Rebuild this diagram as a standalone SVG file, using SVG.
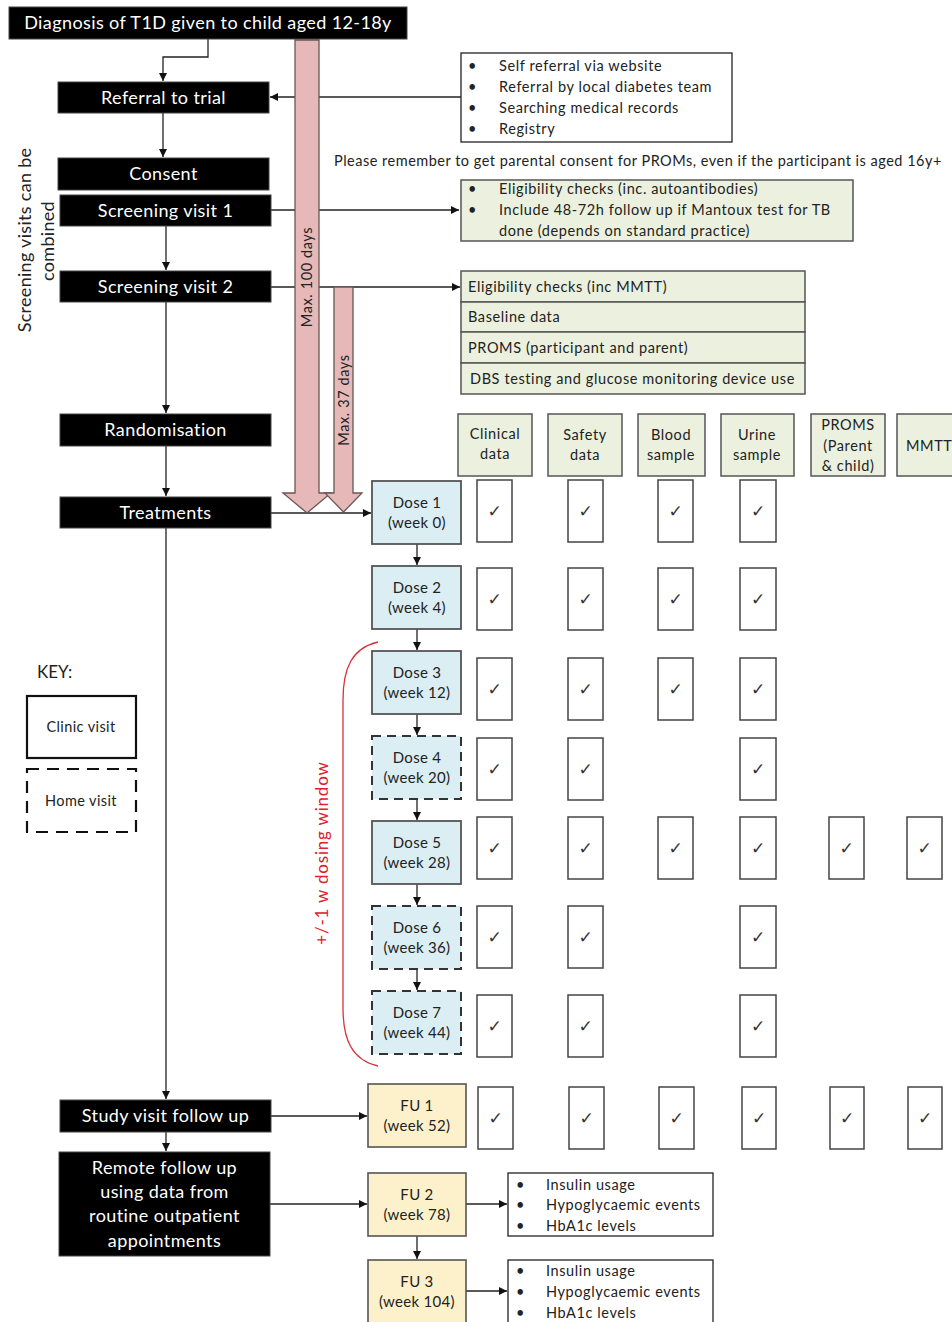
<svg xmlns="http://www.w3.org/2000/svg" width="952" height="1322" viewBox="0 0 952 1322">
<defs>
<marker id="ah" markerUnits="userSpaceOnUse" markerWidth="9" markerHeight="8" refX="8" refY="4" orient="auto">
<path d="M0,0 L8,4 L0,8 z" fill="#111"/>
</marker>
<style>
text{font-family:Lato,"Liberation Sans",sans-serif;}
.blk{fill:#000;stroke:#444;stroke-width:1;}
.wt{fill:#fff;font-size:18px;letter-spacing:0.4px;text-anchor:middle;}
.dk{fill:#222;}
.mid{text-anchor:middle;}
.ln{fill:none;stroke:#222;stroke-width:1.3;}
.arr{marker-end:url(#ah);}
.green{fill:#ebf1de;stroke:#555;stroke-width:1.5;}
.dose{fill:#dbeef4;stroke:#555;stroke-width:1.8;}
.dash{stroke:#333;stroke-width:2;stroke-dasharray:9 6;}
.fu{fill:#fdf1cb;stroke:#555;stroke-width:1.6;}
.chk{fill:#fff;stroke:#444;stroke-width:1.5;}
.ck{font-family:"DejaVu Sans",sans-serif;font-size:17px;fill:#333;text-anchor:middle;}
.wbox{fill:#fff;stroke:#222;stroke-width:1.3;}
.pink{fill:#e6b9b8;stroke:#6b5555;stroke-width:1.3;}
.s14{font-size:14.5px;letter-spacing:0.6px;}
.s15{font-size:15px;letter-spacing:0.3px;}
</style>
</defs>

<!-- Connectors -->
<g id="connectors">
<polyline class="ln arr" points="208,39 208,57 163,57 163,81"/>
<line class="ln arr" x1="163" y1="113" x2="163" y2="157"/>
<line class="ln arr" x1="166" y1="226" x2="166" y2="270"/>
<line class="ln arr" x1="166" y1="302" x2="166" y2="413"/>
<line class="ln arr" x1="166" y1="446" x2="166" y2="496"/>
<line class="ln arr" x1="166" y1="528" x2="166" y2="1099"/>
<line class="ln arr" x1="166" y1="1132" x2="166" y2="1151"/>
<line class="ln arr" x1="461" y1="97" x2="270" y2="97"/>
<line class="ln arr" x1="271" y1="210" x2="459" y2="210"/>
<line class="ln arr" x1="271" y1="287" x2="460" y2="287"/>
<line class="ln arr" x1="271" y1="513" x2="371" y2="513"/>
<line class="ln arr" x1="417" y1="544" x2="417" y2="565"/>
<line class="ln arr" x1="417" y1="629" x2="417" y2="650"/>
<line class="ln arr" x1="417" y1="714" x2="417" y2="735"/>
<line class="ln arr" x1="417" y1="799" x2="417" y2="820"/>
<line class="ln arr" x1="417" y1="884" x2="417" y2="905"/>
<line class="ln arr" x1="417" y1="969" x2="417" y2="990"/>
<line class="ln arr" x1="271" y1="1116" x2="367" y2="1116"/>
<line class="ln arr" x1="270" y1="1204" x2="367" y2="1204"/>
<line class="ln arr" x1="466" y1="1204" x2="507" y2="1204"/>
<line class="ln arr" x1="417" y1="1236" x2="417" y2="1259"/>
<line class="ln arr" x1="466" y1="1291" x2="507" y2="1291"/>
</g>

<!-- Timing arrows -->
<g id="max100">
<polygon class="pink" points="295,40 319,40 319,493 331,493 307,513 283,493 295,493"/>
<text class="dk s14 mid" transform="translate(307,277) rotate(-90)" y="5">Max. 100 days</text>
</g>
<g id="max37">
<polygon class="pink" points="334,287 353,287 353,493 362,493 343.5,512 325,493 334,493"/>
<text class="dk s14 mid" transform="translate(343.5,400) rotate(-90)" y="5">Max. 37 days</text>
</g>

<!-- Main flow -->
<g id="diagnosis"><rect class="blk" x="9" y="7" width="398" height="32"/><text class="wt" x="208" y="29">Diagnosis of T1D given to child aged 12-18y</text></g>
<g id="referral"><rect class="blk" x="58" y="82" width="211" height="31"/><text class="wt" x="163.5" y="103.5">Referral to trial</text></g>
<g id="consent"><rect class="blk" x="58" y="158" width="211" height="32"/><text class="wt" x="163.5" y="180">Consent</text></g>
<g id="screening1"><rect class="blk" x="60" y="195" width="211" height="31"/><text class="wt" x="165.5" y="216.5">Screening visit 1</text></g>
<g id="screening2"><rect class="blk" x="60" y="271" width="211" height="31"/><text class="wt" x="165.5" y="292.5">Screening visit 2</text></g>
<g id="randomisation"><rect class="blk" x="60" y="414" width="211" height="32"/><text class="wt" x="165.5" y="436">Randomisation</text></g>
<g id="treatments"><rect class="blk" x="60" y="497" width="211" height="31"/><text class="wt" x="165.5" y="518.5">Treatments</text></g>
<g id="studyfollowup"><rect class="blk" x="60" y="1100" width="211" height="32"/><text class="wt" x="165.5" y="1122">Study visit follow up</text></g>
<g id="remotefollowup"><rect class="blk" x="59" y="1152" width="211" height="104"/>
<text class="wt" x="164.5" y="1174">Remote follow up</text>
<text class="wt" x="164.5" y="1198">using data from</text>
<text class="wt" x="164.5" y="1222">routine outpatient</text>
<text class="wt" x="164.5" y="1247">appointments</text></g>

<g id="screeningnote">
<text class="dk mid" style="font-size:18px;letter-spacing:0.3px" transform="translate(25,240) rotate(-90)" y="6">Screening visits can be</text>
<text class="dk mid" style="font-size:18px;letter-spacing:0.3px" transform="translate(48,241) rotate(-90)" y="6">combined</text>
</g>

<!-- Referral sources -->
<g id="referralsources"><rect class="wbox" x="461" y="53" width="271" height="89"/>
<g class="dk s14">
<text x="468" y="71">•</text><text x="499" y="71">Self referral via website</text>
<text x="468" y="92">•</text><text x="499" y="92">Referral by local diabetes team</text>
<text x="468" y="113">•</text><text x="499" y="113">Searching medical records</text>
<text x="468" y="134">•</text><text x="499" y="134">Registry</text>
</g></g>

<g id="note"><text class="dk" style="font-size:14.5px;letter-spacing:0.5px" x="334" y="166">Please remember to get parental consent for PROMs, even if the participant is aged 16y+</text></g>

<g id="screening1detail"><rect class="green" x="461" y="180" width="392" height="61"/>
<g class="dk s14">
<text x="468" y="194">•</text><text x="499" y="194">Eligibility checks (inc. autoantibodies)</text>
<text x="468" y="215">•</text><text x="499" y="215">Include 48-72h follow up if Mantoux test for TB</text>
<text x="499" y="236">done (depends on standard  practice)</text>
</g></g>

<g id="screening2detail">
<rect class="green" x="461" y="271" width="344" height="31"/>
<rect class="green" x="461" y="302" width="344" height="30"/>
<rect class="green" x="461" y="332" width="344" height="31"/>
<rect class="green" x="461" y="363" width="344" height="31"/>
<g class="dk s14">
<text x="468" y="292">Eligibility checks (inc MMTT)</text>
<text x="468" y="322">Baseline data</text>
<text x="468" y="353">PROMS (participant and parent)</text>
<text x="470" y="384">DBS testing and glucose monitoring device use</text>
</g></g>

<!-- Column headers -->
<g id="hdr-clinical"><rect class="green" x="458" y="414" width="74" height="62"/><text class="dk s14 mid" x="495" y="439">Clinical</text><text class="dk s14 mid" x="495" y="459">data</text></g>
<g id="hdr-safety"><rect class="green" x="548" y="414" width="74" height="62"/><text class="dk s14 mid" x="585" y="440">Safety</text><text class="dk s14 mid" x="585" y="460">data</text></g>
<g id="hdr-blood"><rect class="green" x="638" y="414" width="67" height="62"/><text class="dk s14 mid" x="671" y="440">Blood</text><text class="dk s14 mid" x="671" y="460">sample</text></g>
<g id="hdr-urine"><rect class="green" x="721" y="414" width="73" height="62"/><text class="dk s14 mid" x="757" y="440">Urine</text><text class="dk s14 mid" x="757" y="460">sample</text></g>
<g id="hdr-proms"><rect class="green" x="811" y="414" width="74" height="62"/><text class="dk s14 mid" x="848" y="430">PROMS</text><text class="dk s14 mid" x="848" y="451">(Parent</text><text class="dk s14 mid" x="848" y="471">&amp; child)</text></g>
<g id="hdr-mmtt"><rect class="green" x="897" y="414" width="80" height="62"/><text class="dk s14" x="906" y="451">MMTT</text></g>

<!-- Dose / FU nodes -->
<g id="dose1"><rect class="dose" x="372" y="481" width="89" height="63"/><text class="dk s15 mid" x="417" y="508">Dose 1</text><text class="dk s15 mid" x="417" y="528">(week 0)</text></g>
<g id="dose2"><rect class="dose" x="372" y="566" width="89" height="63"/><text class="dk s15 mid" x="417" y="593">Dose 2</text><text class="dk s15 mid" x="417" y="613">(week 4)</text></g>
<g id="dose3"><rect class="dose" x="372" y="651" width="89" height="63"/><text class="dk s15 mid" x="417" y="678">Dose 3</text><text class="dk s15 mid" x="417" y="698">(week 12)</text></g>
<g id="dose4"><rect class="dose dash" x="372" y="736" width="89" height="63"/><text class="dk s15 mid" x="417" y="763">Dose 4</text><text class="dk s15 mid" x="417" y="783">(week 20)</text></g>
<g id="dose5"><rect class="dose" x="372" y="821" width="89" height="63"/><text class="dk s15 mid" x="417" y="848">Dose 5</text><text class="dk s15 mid" x="417" y="868">(week 28)</text></g>
<g id="dose6"><rect class="dose dash" x="372" y="906" width="89" height="63"/><text class="dk s15 mid" x="417" y="933">Dose 6</text><text class="dk s15 mid" x="417" y="953">(week 36)</text></g>
<g id="dose7"><rect class="dose dash" x="372" y="991" width="89" height="63"/><text class="dk s15 mid" x="417" y="1018">Dose 7</text><text class="dk s15 mid" x="417" y="1038">(week 44)</text></g>
<g id="fu1"><rect class="fu" x="368" y="1084" width="98" height="63"/><text class="dk s15 mid" x="417" y="1111">FU 1</text><text class="dk s15 mid" x="417" y="1131">(week 52)</text></g>
<g id="fu2"><rect class="fu" x="368" y="1173" width="98" height="63"/><text class="dk s15 mid" x="417" y="1200">FU 2</text><text class="dk s15 mid" x="417" y="1220">(week 78)</text></g>
<g id="fu3"><rect class="fu" x="368" y="1260" width="98" height="70"/><text class="dk s15 mid" x="417" y="1287">FU 3</text><text class="dk s15 mid" x="417" y="1307">(week 104)</text></g>

<g id="fu2detail"><rect class="wbox" x="508" y="1173" width="205" height="63"/>
<g class="dk s14">
<text x="516" y="1190">•</text><text x="546" y="1190">Insulin usage</text>
<text x="516" y="1210">•</text><text x="546" y="1210">Hypoglycaemic events</text>
<text x="516" y="1231">•</text><text x="546" y="1231">HbA1c levels</text>
</g></g>
<g id="fu3detail"><rect class="wbox" x="508" y="1260" width="205" height="70"/>
<g class="dk s14">
<text x="516" y="1276">•</text><text x="546" y="1276">Insulin usage</text>
<text x="516" y="1297">•</text><text x="546" y="1297">Hypoglycaemic events</text>
<text x="516" y="1318">•</text><text x="546" y="1318">HbA1c levels</text>
</g></g>

<!-- Dosing window -->
<g id="dosingwindow">
<path d="M378,642 C352,648 343,668 343,700 L343,1008 C343,1040 352,1060 378,1066" fill="none" stroke="#d9303c" stroke-width="1.3"/>
<text transform="translate(322,853) rotate(-90)" y="6" class="mid" style="font-size:17px;letter-spacing:0.8px;fill:#e0202a">+/-1 w dosing window</text>
</g>

<!-- Key -->
<g id="key">
<text class="dk" x="37" y="678" style="font-size:17px">KEY:</text>
<rect x="27" y="696" width="109" height="62" fill="#fff" stroke="#111" stroke-width="2.2"/>
<text class="dk mid" style="font-size:14.5px;letter-spacing:0.4px" x="81" y="732">Clinic visit</text>
<rect x="27" y="769" width="109" height="63" fill="#fff" stroke="#111" stroke-width="2.2" stroke-dasharray="12 8"/>
<text class="dk mid" style="font-size:14.5px;letter-spacing:0.4px" x="81" y="806">Home visit</text>
</g>

<!-- Checkbox grid -->
<g id="checks">
<!-- row 1 -->
<rect class="chk" x="477" y="480" width="35" height="62"/><text class="ck" x="494.5" y="517">✓</text>
<rect class="chk" x="568" y="480" width="35" height="62"/><text class="ck" x="585.5" y="517">✓</text>
<rect class="chk" x="658" y="480" width="35" height="62"/><text class="ck" x="675.5" y="517">✓</text>
<rect class="chk" x="740" y="480" width="36" height="62"/><text class="ck" x="758" y="517">✓</text>
<!-- row 2 -->
<rect class="chk" x="477" y="568" width="35" height="62"/><text class="ck" x="494.5" y="605">✓</text>
<rect class="chk" x="568" y="568" width="35" height="62"/><text class="ck" x="585.5" y="605">✓</text>
<rect class="chk" x="658" y="568" width="35" height="62"/><text class="ck" x="675.5" y="605">✓</text>
<rect class="chk" x="740" y="568" width="36" height="62"/><text class="ck" x="758" y="605">✓</text>
<!-- row 3 -->
<rect class="chk" x="477" y="658" width="35" height="62"/><text class="ck" x="494.5" y="695">✓</text>
<rect class="chk" x="568" y="658" width="35" height="62"/><text class="ck" x="585.5" y="695">✓</text>
<rect class="chk" x="658" y="658" width="35" height="62"/><text class="ck" x="675.5" y="695">✓</text>
<rect class="chk" x="740" y="658" width="36" height="62"/><text class="ck" x="758" y="695">✓</text>
<!-- row 4 -->
<rect class="chk" x="477" y="738" width="35" height="62"/><text class="ck" x="494.5" y="775">✓</text>
<rect class="chk" x="568" y="738" width="35" height="62"/><text class="ck" x="585.5" y="775">✓</text>
<rect class="chk" x="740" y="738" width="36" height="62"/><text class="ck" x="758" y="775">✓</text>
<!-- row 5 -->
<rect class="chk" x="477" y="817" width="35" height="62"/><text class="ck" x="494.5" y="854">✓</text>
<rect class="chk" x="568" y="817" width="35" height="62"/><text class="ck" x="585.5" y="854">✓</text>
<rect class="chk" x="658" y="817" width="35" height="62"/><text class="ck" x="675.5" y="854">✓</text>
<rect class="chk" x="740" y="817" width="36" height="62"/><text class="ck" x="758" y="854">✓</text>
<rect class="chk" x="829" y="817" width="35" height="62"/><text class="ck" x="846.5" y="854">✓</text>
<rect class="chk" x="907" y="817" width="35" height="62"/><text class="ck" x="924.5" y="854">✓</text>
<!-- row 6 -->
<rect class="chk" x="477" y="906" width="35" height="62"/><text class="ck" x="494.5" y="943">✓</text>
<rect class="chk" x="568" y="906" width="35" height="62"/><text class="ck" x="585.5" y="943">✓</text>
<rect class="chk" x="740" y="906" width="36" height="62"/><text class="ck" x="758" y="943">✓</text>
<!-- row 7 -->
<rect class="chk" x="477" y="995" width="35" height="62"/><text class="ck" x="494.5" y="1032">✓</text>
<rect class="chk" x="568" y="995" width="35" height="62"/><text class="ck" x="585.5" y="1032">✓</text>
<rect class="chk" x="740" y="995" width="36" height="62"/><text class="ck" x="758" y="1032">✓</text>
<!-- FU1 row -->
<rect class="chk" x="478" y="1087" width="35" height="62"/><text class="ck" x="495.5" y="1124">✓</text>
<rect class="chk" x="569" y="1087" width="35" height="62"/><text class="ck" x="586.5" y="1124">✓</text>
<rect class="chk" x="659" y="1087" width="35" height="62"/><text class="ck" x="676.5" y="1124">✓</text>
<rect class="chk" x="742" y="1087" width="34" height="62"/><text class="ck" x="759" y="1124">✓</text>
<rect class="chk" x="830" y="1087" width="34" height="62"/><text class="ck" x="847" y="1124">✓</text>
<rect class="chk" x="908" y="1087" width="34" height="62"/><text class="ck" x="925" y="1124">✓</text>
</g>
</svg>
